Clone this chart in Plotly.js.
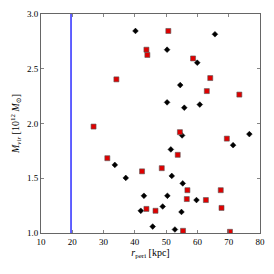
<!DOCTYPE html>
<html>
<head>
<meta charset="utf-8">
<script src="https://cdn.plot.ly/plotly-3.0.1.min.js"></script>
<style>html,body{margin:0;padding:0;background:#fff;}#chart{width:274px;height:274px;}</style>
</head>
<body>
<div id="chart"></div>
<script>
// Black diamonds: r_peri [kpc], M_vir [1e12 Msun]
const blackR = [40.2, 50.3, 65.6, 59.95, 54.5, 50.3, 55.8, 60.75, 76.6, 71.4, 55.1, 51.5, 33.6, 37.1, 51.8, 55.3, 42.9, 50.4, 59.7, 41.9, 48.9, 54.9, 45.7, 52.8];
const blackM = [2.845, 2.674, 2.815, 2.555, 2.351, 2.193, 2.144, 2.173, 1.903, 1.802, 1.891, 1.763, 1.622, 1.503, 1.521, 1.453, 1.340, 1.340, 1.301, 1.203, 1.242, 1.192, 1.059, 1.032];
// Red squares
const redR = [50.7, 43.7, 44.0, 58.6, 34.1, 64.1, 63.0, 73.4, 26.8, 31.2, 54.4, 69.4, 53.7, 42.3, 48.6, 56.8, 67.45, 56.6, 62.7, 67.7, 43.7, 46.6, 55.4, 70.4];
const redM = [2.845, 2.674, 2.626, 2.594, 2.403, 2.415, 2.296, 2.264, 1.972, 1.683, 1.921, 1.862, 1.714, 1.563, 1.592, 1.391, 1.391, 1.310, 1.301, 1.229, 1.220, 1.203, 1.020, 1.011];
// Vertical reference line
const cutoffR = 19.6;
const xTicks = [10, 20, 30, 40, 50, 60, 70, 80];
const yTicks = [1.0, 1.5, 2.0, 2.5, 3.0];
const yTickText = ['1.0', '1.5', '2.0', '2.5', '3.0'];

const font = {family: 'Liberation Serif, DejaVu Serif, serif', size: 9, color: '#000'};
const traces = [
  {x: [cutoffR, cutoffR], y: [1.0, 3.0], mode: 'lines', line: {color: '#3a3aff', width: 1.6}, hoverinfo: 'skip'},
  {x: blackR, y: blackM, mode: 'markers', type: 'scatter',
   marker: {symbol: 'diamond', size: 4.4, color: '#000', line: {color: '#000', width: 0.5}}},
  {x: redR, y: redM, mode: 'markers', type: 'scatter',
   marker: {symbol: 'square', size: 5, color: '#e00000', line: {color: '#555', width: 0.6}}}
];
const axisCommon = {
  showgrid: false, zeroline: false, showline: true, mirror: 'ticks',
  linecolor: '#666', linewidth: 1, ticks: 'inside', ticklen: 3, tickwidth: 0.8, tickcolor: '#666',
  tickfont: font
};
const layout = {
  width: 274, height: 274,
  margin: {l: 41, r: 14, t: 14, b: 41},
  paper_bgcolor: '#fff', plot_bgcolor: '#fff',
  showlegend: false,
  font: font,
  xaxis: Object.assign({}, axisCommon, {
    range: [10, 80], tickvals: xTicks, ticktext: xTicks.map(String),
    title: {text: '<i>r</i><sub>peri</sub> [kpc]', font: {family: font.family, size: 10, color: '#000'}, standoff: 3}
  }),
  yaxis: Object.assign({}, axisCommon, {
    range: [1.0, 3.0], tickvals: yTicks, ticktext: yTickText,
    title: {text: '<i>M</i><sub><i>vir</i></sub> [10<sup>12</sup> <i>M</i><sub>⊙</sub>]', font: {family: font.family, size: 10, color: '#000'}, standoff: 5}
  })
};
Plotly.newPlot('chart', traces, layout, {staticPlot: true, displayModeBar: false});
</script>
</body>
</html>
